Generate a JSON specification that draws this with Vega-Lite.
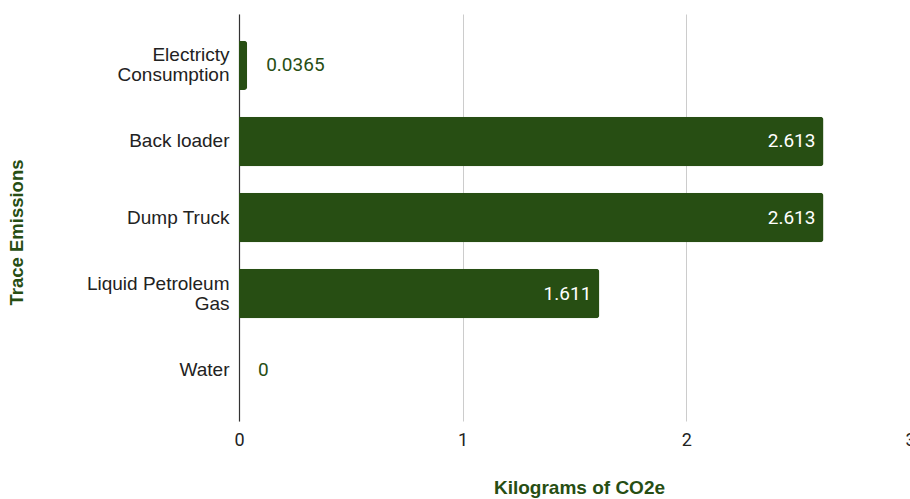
{
  "$schema": "https://vega.github.io/schema/vega-lite/v6.json",
  "width": 671,
  "height": 407,
  "autosize": "none",
  "padding": {"left": 239, "top": 14, "right": 0, "bottom": 78},
  "background": "white",
  "config": {
    "view": {"stroke": null},
    "font": "Liberation Sans"
  },
  "data": {
    "values": [
      {"source": "Electricty Consumption", "kg": 0.0365, "label": "0.0365"},
      {"source": "Back loader", "kg": 2.613, "label": "2.613"},
      {"source": "Dump Truck", "kg": 2.613, "label": "2.613"},
      {"source": "Liquid Petroleum Gas", "kg": 1.611, "label": "1.611"},
      {"source": "Water", "kg": 0, "label": "0"}
    ]
  },
  "encoding": {
    "y": {
      "field": "source",
      "type": "nominal",
      "sort": null,
      "scale": {"paddingInner": 0.35, "paddingOuter": 0.35},
      "axis": {
        "title": "Trace Emissions",
        "titleFont": "Liberation Sans",
        "titleFontSize": 18.5,
        "titleFontWeight": "bold",
        "titleColor": "#274e13",
        "titleX": -213,
        "titleY": 218,
        "titleAngle": -90,
        "labelFont": "Liberation Sans",
        "labelFontSize": 19,
        "labelColor": "#222222",
        "labelPadding": 10,
        "labelLineHeight": 20,
        "labelLimit": 230,
        "labelOffset": {
          "condition": {"test": "datum.value == 'Electricty Consumption' || datum.value == 'Liquid Petroleum Gas'", "value": -10},
          "value": 0
        },
        "labelExpr": "datum.label == 'Electricty Consumption' ? ['Electricty', 'Consumption'] : datum.label == 'Liquid Petroleum Gas' ? ['Liquid Petroleum', 'Gas'] : datum.label",
        "ticks": false,
        "domain": true,
        "domainColor": "#333333",
        "domainWidth": 1.2
      }
    },
    "x": {
      "field": "kg",
      "type": "quantitative",
      "scale": {"domain": [0, 3], "nice": false},
      "axis": {
        "title": "Kilograms of CO2e",
        "titleFont": "Liberation Sans",
        "titleFontSize": 19,
        "titleFontWeight": "bold",
        "titleColor": "#274e13",
        "titlePadding": 29,
        "titleX": 340,
        "values": [0, 1, 2, 3],
        "format": "d",
        "labelFont": "Roboto",
        "labelFontSize": 18,
        "labelColor": "#222222",
        "labelPadding": 10,
        "labelFlush": false,
        "labelOverlap": false,
        "ticks": false,
        "domain": false,
        "grid": true,
        "gridColor": "#cccccc",
        "gridWidth": 1
      }
    }
  },
  "layer": [
    {
      "mark": {"type": "bar", "color": "#274e13", "cornerRadiusEnd": 3}
    },
    {
      "transform": [{"filter": "datum.kg >= 0.5"}],
      "mark": {
        "type": "text",
        "align": "right",
        "baseline": "middle",
        "dx": -8,
        "font": "Roboto",
        "fontSize": 19,
        "color": "white"
      },
      "encoding": {"text": {"field": "label"}}
    },
    {
      "transform": [{"filter": "datum.kg < 0.5"}],
      "mark": {
        "type": "text",
        "align": "left",
        "baseline": "middle",
        "dx": 19,
        "font": "Roboto",
        "fontSize": 19,
        "color": "#274e13"
      },
      "encoding": {"text": {"field": "label"}}
    }
  ]
}
